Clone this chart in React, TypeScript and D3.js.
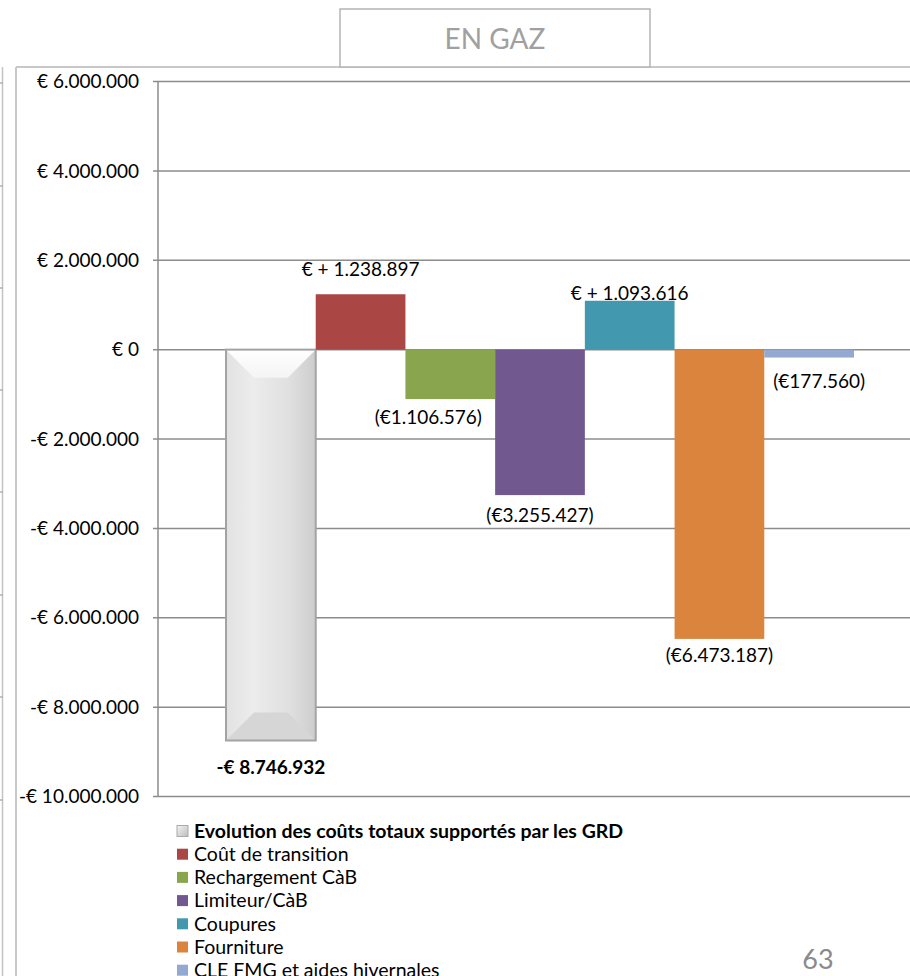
import React from "react";
import * as d3 from "d3";

const categories = ["Total", "Transition", "Recharge", "Limiteur", "Coupures", "Fourniture", "CLE"];
const values = [-8746932, 1238897, -1106576, -3255427, 1093616, -6473187, -177560];
const seriesNames = [
  "Evolution des coûts totaux supportés par les GRD",
  "Coût de transition",
  "Rechargement CàB",
  "Limiteur/CàB",
  "Coupures",
  "Fourniture",
  "CLE FMG et aides hivernales",
];
const colors = ["url(#totalGrad)", "#AA4643", "#89A54E", "#71588F", "#4198AF", "#DB843D", "#93A9CF"];
const yTicks = [6000000, 4000000, 2000000, 0, -2000000, -4000000, -6000000, -8000000, -10000000];
// label nudges [dx, dy] relative to bar centre / bar end
const labelNudges = [[0, 33], [0, -18], [-22, 25], [0, 27], [0, -1], [0, 23], [10, 30]];
const leftPanelTicks = [83, 186, 288, 390, 492, 595, 697, 800];

const locale = d3.formatLocale({ decimal: ",", thousands: ".", grouping: [3], currency: ["€", ""] });
const fmtNum = locale.format(",.0f");

function tickLabel(v: number) {
  if (v === 0) return "€ 0";
  if (v < 0) return "-€ " + fmtNum(-v);
  return "€ " + fmtNum(v);
}
function barLabel(v: number, i: number) {
  if (i === 0) return "-€ " + fmtNum(-v);
  if (v >= 0) return "€ + " + fmtNum(v);
  return "(€" + fmtNum(-v) + ")";
}

export default function App() {
  const W = 910, H = 976;
  const y = d3.scaleLinear().domain([-10000000, 6000000]).range([796.5, 81.5]);
  const x = d3.scaleBand().domain(categories).range([226, 854]).padding(0);
  const axisX = 158;
  const font = "Lato, 'Open Sans', sans-serif";
  const fs = 19;

  return (
    <div style={{ position: "absolute", left: 0, top: 0 }}>
      <svg width={W} height={H} style={{ display: "block", background: "#fff" }}>
        <defs>
          <linearGradient id="totalGrad" x1="0" x2="1" y1="0" y2="0">
            <stop offset="0" stopColor="#e2e2e2" />
            <stop offset="0.3" stopColor="#ececec" />
            <stop offset="0.7" stopColor="#e0e0e0" />
            <stop offset="1" stopColor="#cdcdcd" />
          </linearGradient>
          <linearGradient id="topBevel" x1="0" x2="0" y1="0" y2="1">
            <stop offset="0" stopColor="#ffffff" />
            <stop offset="1" stopColor="#f4f4f4" />
          </linearGradient>
          <linearGradient id="legGrad" x1="0" x2="1" y1="0" y2="1">
            <stop offset="0" stopColor="#f4f4f4" />
            <stop offset="1" stopColor="#bdbdbd" />
          </linearGradient>
        </defs>

        {/* left neighbouring panel */}
        <line x1={2.5} x2={2.5} y1={67} y2={H} stroke="#c4c4c4" strokeWidth={1.5} />
        {leftPanelTicks.map((t) => (
          <line key={t} x1={0} x2={3} y1={t} y2={t} stroke="#b0b0b0" strokeWidth={1.5} />
        ))}

        {/* panel border */}
        <line x1={16} x2={16} y1={67} y2={H} stroke="#c8c8c8" strokeWidth={2} />
        <line x1={16} x2={W} y1={67} y2={67} stroke="#c8c8c8" strokeWidth={2} />

        {/* title box */}
        <rect x={340} y={9} width={310} height={58} fill="#fff" stroke="#b4b4b4" strokeWidth={1.5} />
        <text x={495} y={49} textAnchor="middle" fontFamily={font} fontSize={28} fill="#a0a0a0">EN GAZ</text>

        {/* gridlines */}
        {yTicks.map((t) => (
          <g key={t}>
            <line x1={axisX - 5} x2={W} y1={y(t)} y2={y(t)} stroke="#8c8c8c" strokeWidth={1.5} />
            <text x={139} y={y(t)} dy="0.35em" textAnchor="end" fontFamily={font} fontSize={fs} fill="#000">
              {tickLabel(t)}
            </text>
          </g>
        ))}
        <line x1={axisX} x2={axisX} y1={y(6000000)} y2={y(-10000000)} stroke="#8c8c8c" strokeWidth={1.5} />

        {/* bars */}
        {values.map((v, i) => {
          const x0 = x(categories[i])!;
          const bw = x.bandwidth();
          const yTop = y(Math.max(0, v));
          const yBot = y(Math.min(0, v));
          if (i === 0) {
            const b = 28;
            return (
              <g key={i}>
                <rect x={x0} y={yTop} width={bw} height={yBot - yTop} fill="url(#totalGrad)" />
                <polygon
                  points={`${x0},${yTop} ${x0 + bw},${yTop} ${x0 + bw - b},${yTop + b} ${x0 + b},${yTop + b}`}
                  fill="url(#topBevel)"
                />
                <polygon
                  points={`${x0},${yBot} ${x0 + bw},${yBot} ${x0 + bw - b},${yBot - b} ${x0 + b},${yBot - b}`}
                  fill="#d6d6d6"
                />
                <rect x={x0} y={yTop} width={bw} height={yBot - yTop} fill="none" stroke="#a3a3a3" strokeWidth={2} />
              </g>
            );
          }
          return <rect key={i} x={x0} y={yTop} width={bw} height={yBot - yTop} fill={colors[i]} />;
        })}

        {/* labels */}
        {values.map((v, i) => {
          const cx = x(categories[i])! + x.bandwidth() / 2 + labelNudges[i][0];
          return (
            <text
              key={i}
              x={cx}
              y={y(v) + labelNudges[i][1]}
              textAnchor="middle"
              fontFamily={font}
              fontSize={fs}
              fontWeight={i === 0 ? "bold" : "normal"}
              fill="#000"
            >
              {barLabel(v, i)}
            </text>
          );
        })}

        {/* legend */}
        {seriesNames.map((name, i) => {
          const ly = 831 + i * 23.2;
          return (
            <g key={name}>
              <rect
                x={177}
                y={ly - 5.5}
                width={11}
                height={11}
                fill={i === 0 ? "url(#legGrad)" : colors[i]}
                stroke={i === 0 ? "#aaa" : "none"}
                strokeWidth={1}
              />
              <text x={194} y={ly} dy="0.35em" fontFamily={font} fontSize={19.5} fontWeight={i === 0 ? "bold" : "normal"} fill="#000">
                {name}
              </text>
            </g>
          );
        })}

        {/* page number */}
        <text x={818} y={969} textAnchor="middle" fontFamily={font} fontSize={27} fill="#8a8a8a">63</text>
      </svg>
    </div>
  );
}
